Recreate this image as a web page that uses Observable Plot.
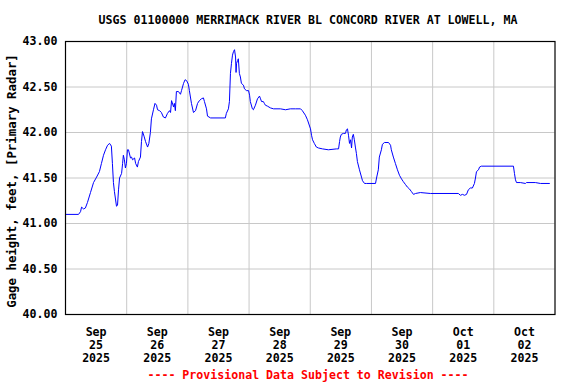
<!DOCTYPE html>
<html>
<head>
<meta charset="utf-8">
<script src="https://cdn.jsdelivr.net/npm/d3@7"></script>
<script src="https://cdn.jsdelivr.net/npm/@observablehq/plot@0.6"></script>
<style>
  body { margin: 0; background: #fff; }
  #wrap { position: relative; width: 576px; height: 384px; overflow: hidden;
          font-family: "DejaVu Sans Mono", monospace; font-weight: bold; font-size: 11.6px; }
  #title { position: absolute; left: 0; width: 616px; top: 13px; text-align: center; color: #000; line-height: 14px; }
  #foot { position: absolute; left: 0; width: 616px; top: 368px; text-align: center; color: #ff0000; line-height: 14px; }
  #chart { position: absolute; left: 0; top: 0; }
</style>
</head>
<body>
<div id="wrap">
  <div id="chart"></div>
  <div id="title"></div>
  <div id="foot"></div>
</div>
<script>
const titleText = "USGS 01100000 MERRIMACK RIVER BL CONCORD RIVER AT LOWELL, MA";
const footText = "---- Provisional Data Subject to Revision ----";
const yLabel = "Gage height, feet, [Primary Radar]";

// hours since 2025-09-25 00:00
const hours = [0, 5.1, 5.9, 6.3, 7.1, 7.8, 8.6, 9.8, 11.0, 12.2, 13.3, 14.1, 14.9, 15.7, 16.5, 17.3, 18.0, 18.4, 18.8, 19.2, 20.0, 20.4, 20.8, 21.2, 22.0, 22.4, 22.7, 23.1, 23.5, 23.9, 24.3, 24.7, 25.5, 25.9, 26.3, 27.1, 27.5, 28.2, 28.6, 29.4, 29.8, 30.2, 30.8, 31.4, 32.2, 32.7, 33.3, 33.7, 34.5, 35.1, 35.7, 36.1, 36.9, 37.6, 38.4, 39.2, 40.0, 40.8, 41.2, 41.6, 42.4, 42.7, 43.1, 43.5, 44.3, 45.1, 45.5, 46.3, 46.9, 47.5, 48.2, 48.6, 49.4, 50.2, 51.0, 51.8, 52.5, 53.3, 54.1, 54.5, 55.3, 55.7, 56.9, 62.7, 63.1, 63.9, 64.3, 64.7, 65.1, 65.5, 65.9, 66.3, 66.7, 66.9, 67.1, 67.5, 67.8, 68.2, 68.6, 69.0, 69.8, 70.2, 71.0, 71.8, 72.2, 72.5, 73.3, 73.7, 74.5, 75.3, 76.1, 76.5, 76.9, 77.6, 78.0, 78.4, 79.2, 80.4, 81.6, 84.3, 86.3, 88.2, 90.2, 92.2, 92.9, 94.1, 94.9, 96.1, 96.5, 96.9, 97.6, 98.4, 99.2, 100.8, 103.1, 106.3, 107.1, 107.5, 107.8, 108.2, 109.0, 109.8, 110.2, 110.6, 111.0, 111.4, 111.8, 112.2, 112.5, 112.9, 113.3, 113.7, 114.1, 114.5, 115.3, 116.1, 116.5, 117.3, 118.0, 121.6, 122.0, 122.7, 123.1, 123.9, 124.3, 125.1, 126.7, 127.5, 127.8, 128.6, 129.4, 130.2, 131.0, 131.8, 132.5, 133.3, 134.1, 134.9, 135.7, 136.5, 137.3, 139.2, 143.1, 154.1, 154.9, 155.7, 156.5, 157.3, 158.0, 158.8, 159.6, 160.4, 160.8, 161.2, 162.0, 162.4, 163.1, 175.7, 176.1, 176.5, 176.9, 178.4, 180.4, 180.8, 184.3, 186.3, 189.8];

const gage = [41.10, 41.10, 41.13, 41.18, 41.16, 41.17, 41.23, 41.34, 41.45, 41.51, 41.57, 41.66, 41.75, 41.81, 41.86, 41.88, 41.85, 41.66, 41.45, 41.35, 41.19, 41.20, 41.37, 41.50, 41.55, 41.66, 41.75, 41.70, 41.61, 41.66, 41.81, 41.81, 41.72, 41.73, 41.70, 41.72, 41.66, 41.62, 41.68, 41.73, 41.90, 42.01, 41.96, 41.90, 41.84, 41.88, 42.00, 42.15, 42.25, 42.32, 42.30, 42.25, 42.24, 42.22, 42.17, 42.16, 42.21, 42.24, 42.22, 42.35, 42.28, 42.32, 42.24, 42.45, 42.45, 42.42, 42.46, 42.54, 42.58, 42.57, 42.53, 42.46, 42.32, 42.22, 42.24, 42.32, 42.35, 42.37, 42.38, 42.34, 42.26, 42.18, 42.16, 42.16, 42.21, 42.26, 42.34, 42.65, 42.76, 42.85, 42.89, 42.91, 42.83, 42.66, 42.76, 42.79, 42.81, 42.65, 42.61, 42.54, 42.52, 42.48, 42.46, 42.46, 42.41, 42.34, 42.26, 42.25, 42.30, 42.37, 42.40, 42.37, 42.34, 42.34, 42.32, 42.30, 42.29, 42.27, 42.26, 42.26, 42.25, 42.26, 42.26, 42.26, 42.24, 42.19, 42.14, 42.04, 41.97, 41.92, 41.88, 41.84, 41.83, 41.82, 41.81, 41.82, 41.82, 41.90, 41.95, 41.98, 41.99, 41.99, 42.03, 42.04, 41.97, 41.88, 41.92, 41.83, 41.95, 41.98, 41.92, 41.84, 41.77, 41.68, 41.59, 41.51, 41.47, 41.44, 41.44, 41.44, 41.50, 41.59, 41.73, 41.81, 41.87, 41.89, 41.89, 41.86, 41.81, 41.73, 41.66, 41.59, 41.53, 41.49, 41.46, 41.43, 41.40, 41.38, 41.35, 41.32, 41.33, 41.34, 41.33, 41.33, 41.31, 41.32, 41.31, 41.32, 41.37, 41.39, 41.39, 41.44, 41.50, 41.57, 41.59, 41.62, 41.63, 41.63, 41.55, 41.48, 41.45, 41.45, 41.44, 41.45, 41.45, 41.44, 41.44];

const tickMonths = ["Sep", "Sep", "Sep", "Sep", "Sep", "Sep", "Oct", "Oct"];
const tickDays = ["25", "26", "27", "28", "29", "30", "01", "02"];
const tickYears = ["2025", "2025", "2025", "2025", "2025", "2025", "2025", "2025"];
const yTicks = [40.0, 40.5, 41.0, 41.5, 42.0, 42.5, 43.0];

const start = Date.UTC(2025, 8, 25);
const DAY = 864e5;
const data = hours.map((h, i) => ({ t: new Date(start + h * 3600e3), v: gage[i] }));
const midnights = d3.range(1, 8).map(k => new Date(start + k * DAY));
const noons = tickDays.map((_, k) => new Date(start + k * DAY + DAY / 2));

document.getElementById("title").textContent = titleText;
document.getElementById("foot").textContent = footText;

const chart = Plot.plot({
  width: 576,
  height: 384,
  marginLeft: 65,
  marginRight: 21.5,
  marginTop: 41,
  marginBottom: 70,
  style: { fontFamily: "DejaVu Sans Mono, monospace", fontWeight: "bold", fontSize: "11.6px", color: "#000", background: "transparent" },
  x: { type: "utc", domain: [new Date(start), new Date(start + 8 * DAY)] },
  y: { domain: [40, 43] },
  marks: [
    Plot.gridY(yTicks, { stroke: "#c8c8c8", strokeOpacity: 1 }),
    Plot.gridX(midnights, { stroke: "#c8c8c8", strokeOpacity: 1 }),
    Plot.axisY(yTicks, { tickSize: 0, tickPadding: 8, tickFormat: d => d.toFixed(2), label: null, fill: "#000" }),
    Plot.axisX(noons, {
      tickSize: 0, tickPadding: 12, label: null, lineHeight: 1.12, fill: "#000",
      tickFormat: d => { const k = Math.floor((d - start) / DAY); return tickMonths[k] + "\n" + tickDays[k] + "\n" + tickYears[k]; }
    }),
    Plot.text([yLabel], { frameAnchor: "left", textAnchor: "middle", rotate: -90, dx: -53, dy: 3, fontSize: 12.4, fill: "#000" }),
    Plot.lineY(data, { x: "t", y: "v", stroke: "#0000ff", strokeWidth: 1 }),
    Plot.frame({ stroke: "#000", strokeWidth: 1.2 })
  ]
});
document.getElementById("chart").appendChild(chart);
</script>
</body>
</html>
